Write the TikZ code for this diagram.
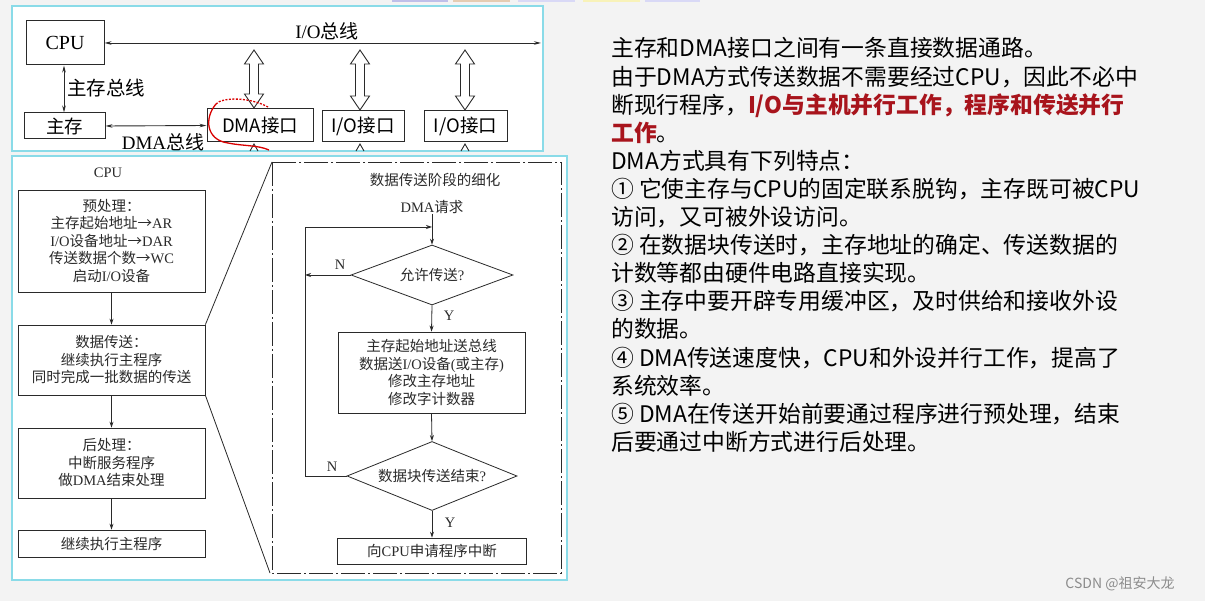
\documentclass[tikz,border=0pt]{standalone}
\usepackage{fontspec}
\setmainfont{Liberation Serif}
\newfontfamily\cjk{Noto Sans CJK SC}
\usetikzlibrary{arrows.meta,shapes.geometric}
\definecolor{cyanb}{HTML}{8ADBE8}
\definecolor{redt}{HTML}{A8141C}
\definecolor{bgc}{HTML}{F3F3F3}
\definecolor{ink}{HTML}{2A2A2A}
\newcommand\La[1]{{\rmfamily #1}}
\newcommand\hollowarrow[3]{%
  \draw[line width=0.9pt, draw=ink, fill=white]
    (#1,#2) -- ({#1+9.5},{#2+14}) -- ({#1+4.5},{#2+14}) -- ({#1+4.5},{#3-14})
    -- ({#1+9.5},{#3-14}) -- (#1,#3) -- ({#1-9.5},{#3-14}) -- ({#1-4.5},{#3-14})
    -- ({#1-4.5},{#2+14}) -- ({#1-9.5},{#2+14}) -- cycle;}
\begin{document}
\begin{tikzpicture}[x=1pt,y=-1pt,
  tbox/.style={draw=ink, line width=1pt, inner sep=0pt, text=black},
  fbox/.style={draw=ink, line width=0.8pt, inner sep=0pt, align=center, text=ink,
     font=\cjk\fontsize{14.5}{17.5}\selectfont},
  ftxt/.style={inner sep=0pt, text=ink, font=\cjk\fontsize{14.5}{17.5}\selectfont},
  dia/.style={draw=ink, line width=0.8pt, shape=diamond, aspect=2.7, inner sep=0pt, text=ink,
     font=\cjk\fontsize{14.5}{17.5}\selectfont},
  arr/.style={-{Stealth[length=6pt,width=4pt]}, line width=0.8pt, draw=ink},
  barr/.style={{Stealth[length=7pt,width=3.5pt]}-{Stealth[length=7pt,width=3.5pt]}, line width=0.9pt, draw=ink},
  rtxt/.style={anchor=base west, inner sep=0pt, text=black, font=\cjk\fontsize{22.8}{28}\selectfont},
  panel/.style={draw=cyanb, line width=1.6pt, fill=white}
]
\fill[bgc] (0,0) rectangle (1205,601);
\path[use as bounding box] (0,0) rectangle (1205,601);
% toolbar tabs
\fill[black!35!blue!25] (392,0) rectangle (448,2);
\fill[brown!40] (453,0) rectangle (510,2);
\fill[black!25!blue!15] (518,0) rectangle (575,2);
\fill[brown!35!yellow!30] (583,0) rectangle (640,2);
\fill[black!25!blue!15] (645,0) rectangle (700,2);
% panels
\draw[panel] (12,6) rectangle (543,151);
\draw[panel] (12,156) rectangle (567,580);

% ---------- top diagram ----------
\node[tbox, minimum width=78pt, minimum height=44pt, font=\fontsize{20}{20}\selectfont] (cpu) at (65,43) {CPU};
\node[tbox, minimum width=81pt, minimum height=26pt, font=\cjk\fontsize{18.5}{18.5}\selectfont] (mem) at (64.5,126) {主存};
\node[tbox, minimum width=106pt, minimum height=33pt, font=\cjk\fontsize{18.5}{18.5}\selectfont] (dma) at (260,125.5) {DMA接口};
\node[tbox, minimum width=82pt, minimum height=31pt, font=\cjk\fontsize{18.5}{18.5}\selectfont] (io1) at (363,126.5) {I/O接口};
\node[tbox, minimum width=83pt, minimum height=31pt, font=\cjk\fontsize{18.5}{18.5}\selectfont] (io2) at (465.5,126.5) {I/O接口};
\coordinate (busend) at (541,43);
\draw[barr] (cpu.east) -- (busend);
\node[inner sep=0pt, font=\fontsize{19}{19}\selectfont] (lbio) at (327,31) {I/O{\cjk 总线}};
\draw[barr] (cpu.south -| 64,0) -- (mem.north -| 64,0);
\node[inner sep=0pt, font=\cjk\fontsize{19.5}{19.5}\selectfont] (lbmb) at (106,88) {主存总线};
\draw[barr] (mem.east) -- (dma.west);
\node[inner sep=0pt, font=\fontsize{19}{19}\selectfont] (lbdb) at (163,142) {DMA{\cjk 总线}};
\hollowarrow{254}{50}{108}
\hollowarrow{360}{50}{110}
\hollowarrow{465}{50}{110}
\draw[line width=0.9pt, draw=ink] (250,151) -- (254,144) -- (258,151);
\draw[line width=0.9pt, draw=ink] (356,151) -- (360,144) -- (364,151);
\draw[line width=0.9pt, draw=ink] (461,151) -- (465,144) -- (469,151);
% red annotation
\draw[red!85!black, line width=1.3pt, dash pattern=on 2pt off 1.5pt] (216,104) .. controls (222,97) and (250,97) .. (268,107);
\draw[red!85!black, line width=1.3pt] (216,104) .. controls (204,118) and (206,140) .. (228,143) .. controls (242,146) and (258,145) .. (269,150);

% ---------- left flowchart ----------
\node[ftxt] (cpul) at (108,173) {\La{CPU}};
\node[fbox, minimum width=187pt, minimum height=102pt] (p1) at (111.5,241)
  {预处理：\\主存起始地址→\La{AR}\\ \La{I/O}设备地址→\La{DAR}\\传送数据个数→\La{WC}\\启动\La{I/O}设备};
\node[fbox, minimum width=187pt, minimum height=70pt] (p2) at (111.5,360)
  {数据传送：\\继续执行主程序\\同时完成一批数据的传送};
\node[fbox, minimum width=187pt, minimum height=70pt] (p3) at (111.5,463)
  {后处理：\\中断服务程序\\做\La{DMA}结束处理};
\node[fbox, minimum width=187pt, minimum height=27pt] (p4) at (111.5,543.5) {继续执行主程序};
\draw[arr] (p1.south) -- (p2.north);
\draw[arr] (p2.south) -- (p3.north);
\draw[arr] (p3.south) -- (p4.north);

% detail box
\draw[draw=ink, line width=0.9pt, dash pattern=on 24pt off 3pt on 2pt off 3pt] (272,162) rectangle (561,573);
\coordinate (zt) at (272,162);
\coordinate (zb) at (270,573);
\draw[draw=ink, line width=0.8pt] (p2.north east) -- (zt);
\draw[draw=ink, line width=0.8pt] (p2.south east) -- (zb);

\node[ftxt] (ttl) at (435,180) {数据传送阶段的细化};
\node[ftxt] (req) at (432,207) {\La{DMA}请求};
\node[dia, minimum width=162pt, minimum height=60pt] (d1) at (432,275) {允许传送\La{?}};
\node[fbox, minimum width=187pt, minimum height=81pt] (b5) at (431.5,372.5)
  {主存起始地址送总线\\数据送\La{I/O}设备\La{(}或主存\La{)}\\修改主存地址\\修改字计数器};
\node[dia, minimum width=170pt, minimum height=69pt] (d2) at (432,476) {数据块传送结束\La{?}};
\node[fbox, minimum width=189pt, minimum height=26pt] (b6) at (432,551) {向\La{CPU}申请程序中断};
\coordinate (j) at (432,227);
\coordinate (lt) at (305,227);
\coordinate (lm) at (305,275);
\coordinate (lb) at (305,476);
\draw[draw=ink, line width=0.8pt] (req.south) -- (j);
\draw[arr] (j) -- (d1.north);
\draw[arr] (d1.west) -- (lm);
\draw[draw=ink, line width=0.8pt] (d2.west) -- (lb) -- (lt);
\draw[arr] (lt) -- (j);
\draw[arr] (d1.south) -- (b5.north);
\draw[arr] (b5.south) -- (d2.north);
\draw[arr] (d2.south) -- (b6.north);
\node[ftxt] (n1) at (340,265) {\La{N}};
\node[ftxt] (y1) at (449,316) {\La{Y}};
\node[ftxt] (n2) at (332,467) {\La{N}};
\node[ftxt] (y2) at (450,523) {\La{Y}};

% ---------- right text ----------
\node[rtxt] (t1) at (611,57) {主存和DMA接口之间有一条直接数据通路。};
\node[rtxt] (t2) at (611,85.1) {由于DMA方式传送数据不需要经过CPU，因此不必中};
\node[rtxt] (t3) at (611,113.2) {断现行程序，{\bfseries\color{redt}I/O与主机并行工作，程序和传送并行}};
\node[rtxt] (t4) at (611,141.3) {{\bfseries\color{redt}工作}。};
\node[rtxt] (t5) at (611,169.4) {DMA方式具有下列特点：};
\node[rtxt] (t6) at (611,197.5) {① 它使主存与CPU的固定联系脱钩，主存既可被CPU};
\node[rtxt] (t7) at (611,225.6) {访问，又可被外设访问。};
\node[rtxt] (t8) at (611,253.7) {② 在数据块传送时，主存地址的确定、传送数据的};
\node[rtxt] (t9) at (611,281.8) {计数等都由硬件电路直接实现。};
\node[rtxt] (t10) at (611,309.9) {③ 主存中要开辟专用缓冲区，及时供给和接收外设};
\node[rtxt] (t11) at (611,338) {的数据。};
\node[rtxt] (t12) at (611,366.1) {④ DMA传送速度快，CPU和外设并行工作，提高了};
\node[rtxt] (t13) at (611,394.2) {系统效率。};
\node[rtxt] (t14) at (611,422.3) {⑤ DMA在传送开始前要通过程序进行预处理，结束};
\node[rtxt] (t15) at (611,450.4) {后要通过中断方式进行后处理。};

\node[inner sep=0pt, text=black!45, font=\cjk\fontsize{14}{14}\selectfont] (wm) at (1120,584) {CSDN @祖安大龙};
\end{tikzpicture}
\end{document}
